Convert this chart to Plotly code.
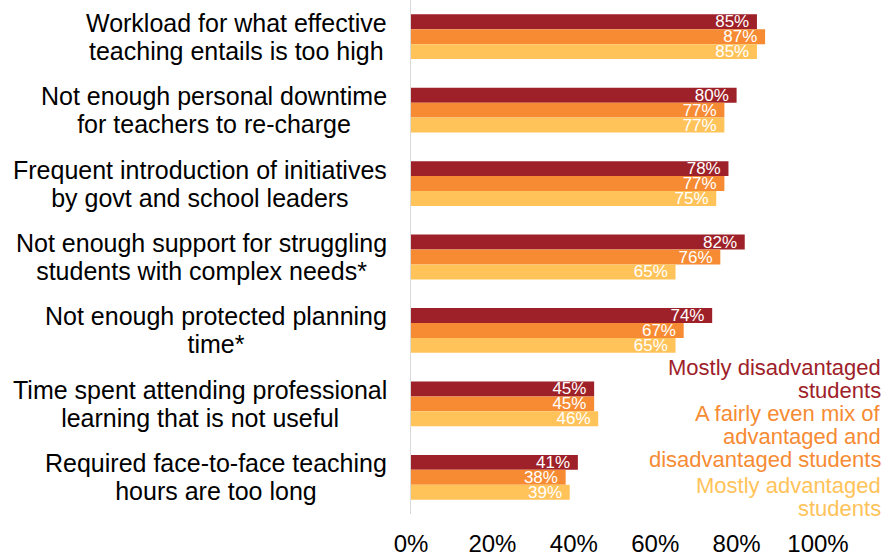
import plotly.graph_objects as go

# Reasons cited, by school student mix (% of teachers)
categories = [
    "Workload for what effective<br>teaching entails is too high",
    "Not enough personal downtime<br>for teachers to re-charge",
    "Frequent introduction of initiatives<br>by govt and school leaders",
    "Not enough support for struggling<br>students with complex needs*",
    "Not enough protected planning<br>time*",
    "Time spent attending professional<br>learning that is not useful",
    "Required face-to-face teaching<br>hours are too long",
]
series_names = [
    "Mostly disadvantaged\nstudents",
    "A fairly even mix of\nadvantaged and\ndisadvantaged students",
    "Mostly advantaged\nstudents",
]
mostly_disadvantaged = [85, 80, 78, 82, 74, 45, 41]
even_mix = [87, 77, 77, 76, 67, 45, 38]
mostly_advantaged = [85, 77, 75, 65, 65, 46, 39]
x_ticks = [0, 20, 40, 60, 80, 100]

series_values = [mostly_disadvantaged, even_mix, mostly_advantaged]
colors = ["#9E2129", "#F68B33", "#FFC35A"]
FONT = "Liberation Sans, Arial, sans-serif"

W, H = 885, 557
M_L, M_R, M_T, M_B = 411, 67, 0, 41
plot_w = W - M_L - M_R
plot_h = H - M_T - M_B

fig = go.Figure()
for name, vals, col in zip(series_names, series_values, colors):
    fig.add_trace(go.Bar(
        y=categories,
        x=vals,
        orientation="h",
        name=name.replace("\n", " "),
        marker=dict(color=col, line=dict(width=0)),
        # trailing no-break space keeps the value clear of the bar end
        text=[f"{v}%\u00a0" for v in vals],
        textposition="inside",
        insidetextanchor="end",
        textangle=0,
        constraintext="none",
        insidetextfont=dict(color="#FFFFFF", size=17, family=FONT),
        showlegend=False,
    ))

annotations = []

# Category labels: centred two-line text, right edge just left of the axis
for cat in categories:
    annotations.append(dict(
        text=f'<span style="font-size:25px">{cat}</span>',
        xref="paper", yref="y",
        x=(389 - M_L) / plot_w, y=cat,
        xanchor="right", yanchor="middle",
        align="center",
        showarrow=False,
        font=dict(color="#000000", size=21.3, family=FONT),
    ))

# Legend drawn as coloured text, right-aligned at the right edge
legend_tops = [369, 415, 487]
line_step = 23
for name, col, top in zip(series_names, colors, legend_tops):
    for i, line in enumerate(name.split("\n")):
        ypx = top + i * line_step
        annotations.append(dict(
            text=line,
            xref="paper", yref="paper",
            x=(883 - M_L) / plot_w,
            y=(M_T + plot_h - ypx) / plot_h,
            xanchor="right", yanchor="middle",
            showarrow=False,
            font=dict(color=col, size=22, family=FONT),
        ))

fig.update_layout(
    width=W, height=H,
    margin=dict(l=M_L, r=M_R, t=M_T, b=M_B, pad=0),
    paper_bgcolor="white",
    plot_bgcolor="white",
    barmode="group",
    bargap=0.39,
    bargroupgap=0,
    font=dict(family=FONT, color="#000000"),
    annotations=annotations,
    xaxis=dict(
        range=[0, 100],
        tickvals=x_ticks,
        ticktext=[f"{t}%" for t in x_ticks],
        showgrid=False,
        zeroline=False,
        showline=False,
        ticks="outside",
        ticklen=8,
        tickcolor="rgba(0,0,0,0)",
        tickfont=dict(size=24, family=FONT, color="#000000"),
    ),
    yaxis=dict(
        autorange="reversed",
        showgrid=False,
        zeroline=False,
        showline=True,
        linecolor="#D9D9D9",
        linewidth=1,
        showticklabels=False,
        ticks="",
    ),
)

fig.write_html("out.html")
